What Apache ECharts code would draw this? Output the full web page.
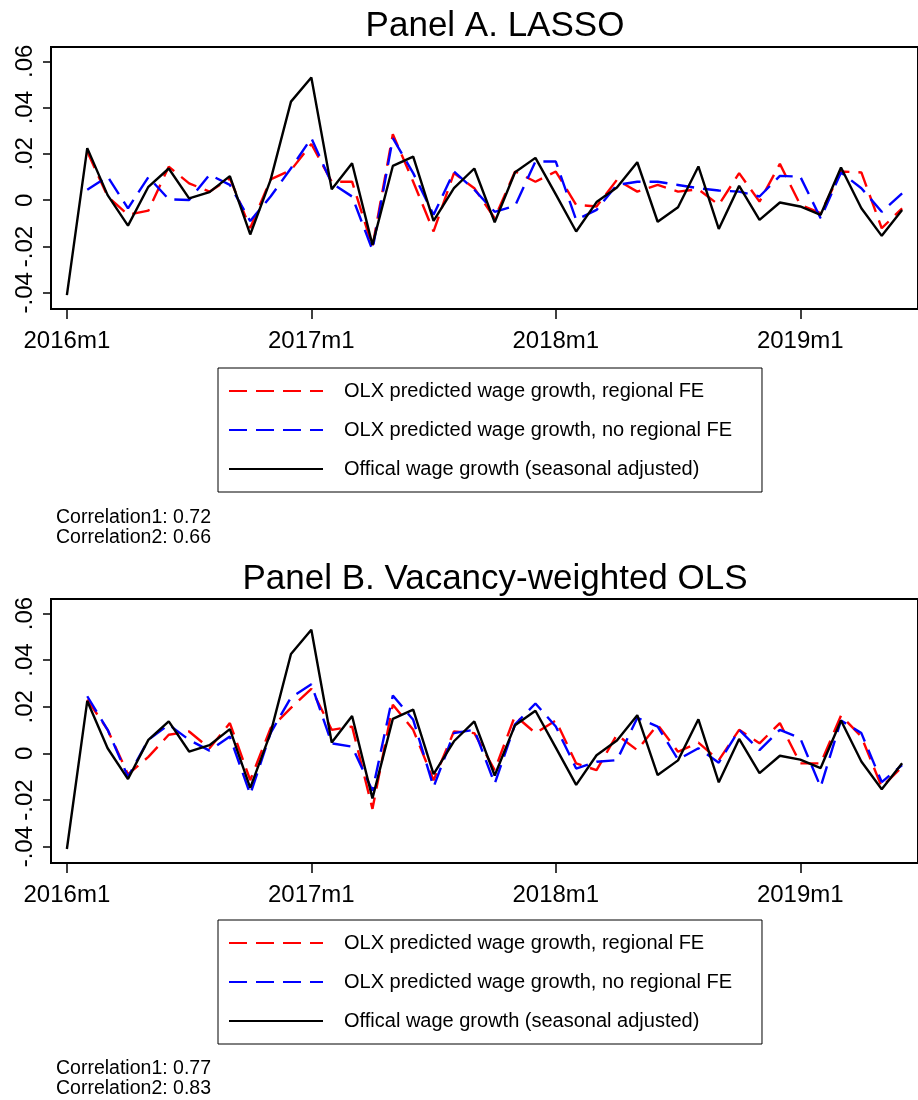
<!DOCTYPE html>
<html>
<head>
<meta charset="utf-8">
<script src="https://cdn.jsdelivr.net/npm/echarts@6/dist/echarts.min.js"></script>
<style>
  html, body { margin: 0; padding: 0; background: #fff; }
  #chart { width: 918px; height: 1100px; }
</style>
</head>
<body>
<div id="chart"></div>
<script>
// month index 0 = 2016m1 ... 41 = 2019m6
const xTickValues = [0, 12, 24, 36];
const xTickLabels = ['2016m1', '2017m1', '2018m1', '2019m1'];
const yTickValues = [-0.04, -0.02, 0, 0.02, 0.04, 0.06];
const yTickLabels = ['-.04', '-.02', '0', '.02', '.04', '.06'];

const official = [-0.041, 0.0225, 0.0022, -0.011, 0.0058, 0.0137, 0.0008, 0.0035, 0.0104, -0.0148,
  0.0088, 0.0426, 0.053, 0.0047, 0.016, -0.0193, 0.0148, 0.0188, -0.0089, 0.0052,
  0.0137, -0.0095, 0.0121, 0.0183, 0.0025, -0.0135, -0.0008, 0.0055, 0.0164, -0.0093,
  -0.003, 0.0146, -0.0124, 0.0062, -0.0085, -0.001, -0.0027, -0.0063, 0.0141, -0.0035,
  -0.0154, -0.0042];

const lassoRegional = [null, 0.021, 0.0016, -0.0063, -0.0045, 0.0145, 0.0073, 0.0037, 0.0095, -0.012,
  0.009, 0.013, 0.0243, 0.008, 0.008, -0.02, 0.0285, 0.008, -0.0135, 0.0117,
  0.0052, -0.0078, 0.0124, 0.008, 0.0124, -0.002, -0.0027, 0.0088, 0.0037, 0.0066,
  0.0037, 0.0047, -0.002, 0.0117, -0.0006, 0.0157, -0.002, -0.0056, 0.0124, 0.012,
  -0.0121, -0.0035];
const lassoNoRegional = [null, 0.0045, 0.0102, -0.0035, 0.01, 0.0004, 0.0001, 0.011, 0.0066, -0.009,
  0.0016, 0.0138, 0.0268, 0.0073, 0.0016, -0.0215, 0.0268, 0.0117, -0.0063, 0.0124,
  0.0045, -0.005, -0.0024, 0.0167, 0.0167, -0.0085, -0.0042, 0.0066, 0.008, 0.008,
  0.0066, 0.0052, 0.0042, 0.0037, 0.0016, 0.0105, 0.0102, -0.0078, 0.012, 0.0052,
  -0.005, 0.003];

const olsRegional = [null, 0.0231, 0.0101, -0.009, -0.0015, 0.008, 0.0094, 0.0022, 0.013, -0.0115,
  0.0108, 0.0195, 0.0277, 0.0101, 0.0115, -0.0238, 0.0209, 0.0101, -0.0115, 0.0094,
  0.0087, -0.0072, 0.0162, 0.0087, 0.0141, -0.0043, -0.0072, 0.008, 0.0014, 0.0123,
  0.0007, 0.0046, -0.0029, 0.0101, 0.0043, 0.013, -0.0043, -0.0043, 0.0162, 0.0072,
  -0.0144, -0.0058];
const olsNoRegional = [null, 0.0245, 0.0101, -0.0101, 0.0058, 0.0123, 0.0058, 0.0012, 0.0072, -0.0176,
  0.0087, 0.024, 0.0296, 0.0043, 0.0029, -0.016, 0.0248, 0.0144, -0.0144, 0.0087,
  0.0101, -0.013, 0.0125, 0.0214, 0.0115, -0.0065, -0.0036, -0.0029, 0.0152, 0.0115,
  -0.0026, 0.0022, -0.004, 0.0101, 0.0014, 0.0101, 0.0065, -0.0144, 0.0141, 0.0087,
  -0.0123, -0.005];

const correlationsA = [0.72, 0.66];
const correlationsB = [0.77, 0.83];

const NAME_RED = 'OLX predicted wage growth, regional FE';
const NAME_BLUE = 'OLX predicted wage growth, no regional FE';
const NAME_BLACK = 'Offical wage growth (seasonal adjusted)';

const FONT = '"Liberation Sans", Arial, sans-serif';
const DASH = [18, 9];

const toPairs = arr => arr.map((v, i) => [i, v]);

const nearestLabel = (v, values, labels) => {
  let best = 0;
  values.forEach((t, i) => {
    if (Math.abs(t - v) < Math.abs(values[best] - v)) best = i;
  });
  return labels[best];
};

function makeX(gridIndex) {
  return {
    type: 'value', gridIndex, min: -0.78, max: 41.78,
    axisLine: { show: true, onZero: false, lineStyle: { color: '#000', width: 2 } },
    axisTick: { show: true, customValues: xTickValues, length: 10, lineStyle: { color: '#000', width: 1.5 } },
    axisLabel: {
      customValues: xTickValues, color: '#000', fontSize: 24, fontFamily: FONT, margin: 20,
      formatter: v => nearestLabel(v, xTickValues, xTickLabels)
    },
    splitLine: { show: false }
  };
}

function makeY(gridIndex) {
  return {
    type: 'value', gridIndex, min: -0.047, max: 0.0662,
    axisLine: { show: true, onZero: false, lineStyle: { color: '#000', width: 2 } },
    axisTick: { show: true, customValues: yTickValues, length: 8, lineStyle: { color: '#000', width: 1.5 } },
    axisLabel: {
      customValues: yTickValues, rotate: 90, color: '#000', fontSize: 24, fontFamily: FONT, margin: 14,
      formatter: v => nearestLabel(v, yTickValues, yTickLabels)
    },
    splitLine: { show: false }
  };
}

function makeSeries(idx, red, blue) {
  const base = { type: 'line', xAxisIndex: idx, yAxisIndex: idx, symbol: 'none', animation: false, connectNulls: false };
  return [
    Object.assign({}, base, { name: NAME_RED, data: toPairs(red),
      itemStyle: { color: '#ff0000' }, lineStyle: { color: '#ff0000', width: 2.4, type: DASH } }),
    Object.assign({}, base, { name: NAME_BLUE, data: toPairs(blue),
      itemStyle: { color: '#0000ff' }, lineStyle: { color: '#0000ff', width: 2.4, type: DASH } }),
    Object.assign({}, base, { name: NAME_BLACK, data: toPairs(official),
      itemStyle: { color: '#000' }, lineStyle: { color: '#000', width: 2.4 } })
  ];
}

function makeLegend(top) {
  return {
    orient: 'vertical', left: 218, top,
    data: [NAME_RED, NAME_BLUE, NAME_BLACK],
    itemWidth: 94, itemHeight: 14, itemGap: 19,
    padding: [13, 30, 13, 10],
    borderColor: '#000', borderWidth: 1,
    selectedMode: false,
    itemStyle: { opacity: 0 },
    textStyle: { color: '#000', fontSize: 20, fontFamily: FONT, padding: [0, 0, 0, 16] }
  };
}

const corrText = c => 'Correlation1: ' + c[0].toFixed(2) + '\nCorrelation2: ' + c[1].toFixed(2);

const chart = echarts.init(document.getElementById('chart'), null, { renderer: 'canvas' });

chart.setOption({
  backgroundColor: '#fff',
  animation: false,
  title: [
    { text: 'Panel A. LASSO', left: 490, textAlign: 'center', top: 4,
      textStyle: { fontSize: 35, fontWeight: 'normal', color: '#000', fontFamily: FONT } },
    { text: 'Panel B. Vacancy-weighted OLS', left: 490, textAlign: 'center', top: 557,
      textStyle: { fontSize: 35, fontWeight: 'normal', color: '#000', fontFamily: FONT } },
    { text: corrText(correlationsA), left: 56, top: 508, padding: 0,
      textStyle: { fontSize: 19.5, fontWeight: 'normal', color: '#000', fontFamily: FONT, lineHeight: 20 } },
    { text: corrText(correlationsB), left: 56, top: 1059, padding: 0,
      textStyle: { fontSize: 19.5, fontWeight: 'normal', color: '#000', fontFamily: FONT, lineHeight: 20 } }
  ],
  legend: [makeLegend(368), makeLegend(920)],
  grid: [
    { left: 51, top: 47, width: 876, height: 262, show: true, borderColor: '#000', borderWidth: 2, backgroundColor: '#fff' },
    { left: 51, top: 599, width: 876, height: 264, show: true, borderColor: '#000', borderWidth: 2, backgroundColor: '#fff' }
  ],
  xAxis: [makeX(0), makeX(1)],
  yAxis: [makeY(0), makeY(1)],
  series: [
    ...makeSeries(0, lassoRegional, lassoNoRegional),
    ...makeSeries(1, olsRegional, olsNoRegional)
  ]
});
</script>
</body>
</html>
